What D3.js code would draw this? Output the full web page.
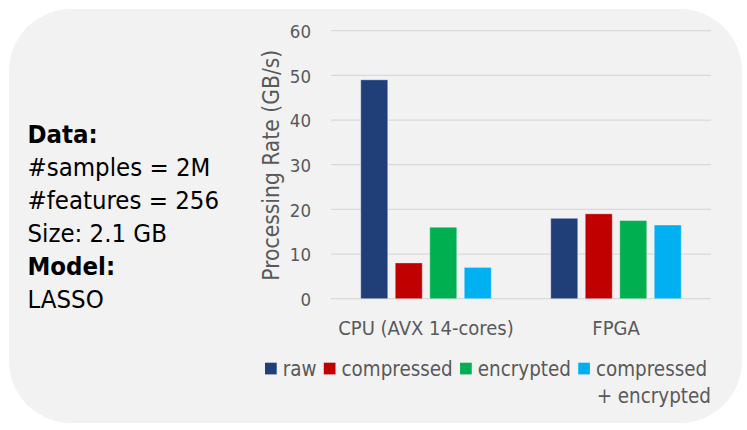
<!DOCTYPE html>
<html>
<head>
<meta charset="utf-8">
<script src="https://cdn.jsdelivr.net/npm/d3@7"></script>
<style>
  html, body { margin: 0; padding: 0; background: #ffffff; }
  svg { display: block; }
  text { font-family: "DejaVu Sans Condensed", "DejaVu Sans", sans-serif; font-stretch: condensed; }
</style>
</head>
<body>
<svg id="chart" width="747" height="430"></svg>
<script>
// ---- data ----
const categories = ["CPU (AVX 14-cores)", "FPGA"];
const seriesNames = ["raw", "compressed", "encrypted", "compressed\n+ encrypted"];
const seriesColors = ["#203F78", "#C00000", "#00B050", "#00B0F0"];
const rawValues = [49, 18];
const compressedValues = [8, 19];
const encryptedValues = [16, 17.5];
const compEncValues = [7, 16.5];
const yTicks = [0, 10, 20, 30, 40, 50, 60];
const infoLines = [
  { text: "Data:", bold: true },
  { text: "#samples = 2M", bold: false },
  { text: "#features = 256", bold: false },
  { text: "Size: 2.1 GB", bold: false },
  { text: "Model:", bold: true },
  { text: "LASSO", bold: false }
];
const yTitle = "Processing Rate (GB/s)";

const seriesValues = [rawValues, compressedValues, encryptedValues, compEncValues];

// ---- layout ----
const svg = d3.select("#chart");
const plot = { left: 331, right: 711, top: 30.7, bottom: 298.7 };

svg.append("rect")
  .attr("x", 9).attr("y", 9)
  .attr("width", 733).attr("height", 414)
  .attr("rx", 62).attr("ry", 62)
  .attr("fill", "#F2F2F2");

const y = d3.scaleLinear().domain([0, 60]).range([plot.bottom, plot.top]);
const x0 = d3.scaleBand().domain(categories).range([plot.left, plot.right]).padding(0);
const groupW = 138;
const x1 = d3.scaleBand().domain(d3.range(seriesNames.length))
  .range([(x0.bandwidth() - groupW) / 2, (x0.bandwidth() + groupW) / 2])
  .paddingInner(0.2174).paddingOuter(0.1087);

// gridlines
svg.append("g").selectAll("line").data(yTicks).join("line")
  .attr("x1", plot.left).attr("x2", plot.right)
  .attr("y1", d => y(d)).attr("y2", d => y(d))
  .attr("stroke", "#D9D9D9").attr("stroke-width", 1.3);

// y axis labels
const yAxis = d3.axisLeft(y).tickValues(yTicks).tickSize(0).tickPadding(0);
const gy = svg.append("g").attr("transform", `translate(311,0)`).call(yAxis);
gy.select(".domain").remove();
gy.selectAll("text")
  .attr("fill", "#595959")
  .style("font-size", "18.5px")
  .attr("dy", "0.36em");

// y title
svg.append("text")
  .attr("transform", `translate(278.5,${(plot.top + plot.bottom) / 2 + 0.5}) rotate(-90)`)
  .attr("text-anchor", "middle")
  .attr("fill", "#595959")
  .style("font-size", "22.6px")
  .text(yTitle);

// bars
const barData = [];
categories.forEach((c, ci) => {
  seriesValues.forEach((vals, si) => barData.push({ c, si, v: vals[ci] }));
});
svg.append("g").selectAll("rect").data(barData).join("rect")
  .attr("x", d => x0(d.c) + x1(d.si))
  .attr("width", x1.bandwidth())
  .attr("y", d => y(d.v))
  .attr("height", d => y(0) - y(d.v))
  .attr("fill", d => seriesColors[d.si])
  .attr("stroke", "rgba(255,255,255,0.35)")
  .attr("stroke-width", 1);

// x axis labels
const xAxis = d3.axisBottom(x0).tickSize(0).tickPadding(0);
const gx = svg.append("g").attr("transform", `translate(0,${plot.bottom})`).call(xAxis);
gx.select(".domain").remove();
gx.selectAll("text")
  .attr("fill", "#595959")
  .style("font-size", "20px")
  .attr("y", 36.5).attr("dy", 0);

// legend
const legend = svg.append("g");
let lx = 265;
seriesNames.forEach((name, i) => {
  legend.append("rect")
    .attr("x", lx).attr("y", 362.7)
    .attr("width", 11.7).attr("height", 11.7)
    .attr("fill", seriesColors[i]);
  const lines = name.split("\n");
  const t = legend.append("text")
    .attr("x", lx + 17.7).attr("y", 376)
    .attr("fill", "#595959")
    .style("font-size", "20.4px");
  lines.forEach((ln, k) => {
    t.append("tspan").attr("x", lx + 17.7 + (k > 0 ? 0.7 : 0)).attr("dy", k === 0 ? 0 : 27.3).text(ln);
  });
  const w = d3.max(t.selectAll("tspan").nodes(), n => n.getComputedTextLength());
  lx = lx + 17.7 + w + 7.3;
});

// info text
const info = svg.append("g");
info.selectAll("text").data(infoLines).join("text")
  .attr("x", 27.5)
  .attr("y", (d, i) => 142.8 + i * 33.1)
  .attr("fill", "#000000")
  .style("font-size", "25.5px")
  .style("font-weight", d => d.bold ? "bold" : "normal")
  .text(d => d.text);
</script>
</body>
</html>
